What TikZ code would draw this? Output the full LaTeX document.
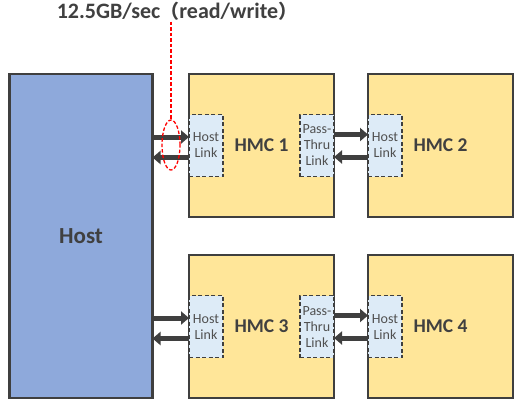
\documentclass[tikz,border=0pt]{standalone}
\usepackage{fontspec}
\setmainfont{Carlito}
\newfontfamily\cjkfont{Noto Sans CJK JP}
\usetikzlibrary{shapes,arrows.meta,positioning}

\definecolor{hostblue}{HTML}{8EA9DB}
\definecolor{cubeyellow}{HTML}{FFE699}
\definecolor{linkblue}{HTML}{DDEBF7}
\definecolor{edgegray}{HTML}{3F3F3F}
\definecolor{textgray}{HTML}{404040}
\definecolor{smallgray}{HTML}{505050}

\begin{document}
\begin{tikzpicture}[
    x=1pt, y=-1pt,
    node distance=34pt,
    hostbox/.style={rectangle, draw=edgegray, line width=2.8pt, fill=hostblue, minimum width=143pt, minimum height=324pt, outer sep=0pt, text=textgray, font=\fontsize{23}{26}\selectfont\bfseries},
    cube/.style={rectangle, draw=edgegray, line width=2.8pt, fill=cubeyellow, minimum width=145pt, minimum height=143pt, outer sep=0pt, text=textgray, font=\fontsize{19.5}{22}\selectfont\bfseries},
    linkbox/.style={rectangle, draw=edgegray, dash pattern=on 4pt off 2.5pt, line width=1.5pt, fill=linkblue, minimum width=34pt, minimum height=62pt, inner sep=0pt, outer sep=0pt, align=center, text=smallgray, font=\fontsize{14}{16}\selectfont},
    bus/.style={-{Triangle[length=8pt,width=13pt]}, line width=5pt, draw=edgegray},
    redmark/.style={draw=red, line width=1.3pt, dash pattern=on 3.5pt off 2pt}
]
\useasboundingbox (0,0) rectangle (518,405);

% Host
\node[hostbox] (host) at (81,236) {Host};

% Memory cubes
\node[cube] (hmc1) at (261.5,145.5) {HMC 1};
\node[cube, right=of hmc1] (hmc2) {HMC 2};
\node[cube, below=38pt of hmc1] (hmc3) {HMC 3};
\node[cube, right=of hmc3] (hmc4) {HMC 4};

% Links
\node[linkbox, anchor=west] (hl1) at (hmc1.west) {Host\\Link};
\node[linkbox, anchor=east] (pt1) at (hmc1.east) {Pass-\\Thru\\Link};
\node[linkbox, anchor=west] (hl2) at (hmc2.west) {Host\\Link};
\node[linkbox, anchor=west] (hl3) at (hmc3.west) {Host\\Link};
\node[linkbox, anchor=east] (pt3) at (hmc3.east) {Pass-\\Thru\\Link};
\node[linkbox, anchor=west] (hl4) at (hmc4.west) {Host\\Link};

% Arrows
\draw[bus] ([yshift=8.5pt]host.east |- hl1.west) -- ([yshift=8.5pt]hl1.west);
\draw[bus] ([yshift=-12pt]hl1.west) -- ([yshift=-12pt]host.east |- hl1.west);
\draw[bus] ([yshift=11pt]pt1.east) -- ([yshift=11pt]hl2.west);
\draw[bus] ([yshift=-11.5pt]hl2.west) -- ([yshift=-11.5pt]pt1.east);
\draw[bus] ([yshift=8.5pt]host.east |- hl3.west) -- ([yshift=8.5pt]hl3.west);
\draw[bus] ([yshift=-12pt]hl3.west) -- ([yshift=-12pt]host.east |- hl3.west);
\draw[bus] ([yshift=11pt]pt3.east) -- ([yshift=11pt]hl4.west);
\draw[bus] ([yshift=-11.5pt]hl4.west) -- ([yshift=-11.5pt]pt3.east);

% Bandwidth note
\node[anchor=base, inner sep=1pt, text=textgray, font=\fontsize{22}{24}\selectfont\bfseries] (rate) at (177,18.5) {12.5GB/sec{\cjkfont\fontsize{19}{22}\selectfont （}read/write{\cjkfont\fontsize{19}{22}\selectfont ）}};
\node[ellipse, redmark, minimum width=18pt, minimum height=50pt, inner sep=0pt] (tap) at (171,145) {};
\draw[redmark] (tap.north |- rate.south) -- (tap.north);

\end{tikzpicture}
\end{document}
